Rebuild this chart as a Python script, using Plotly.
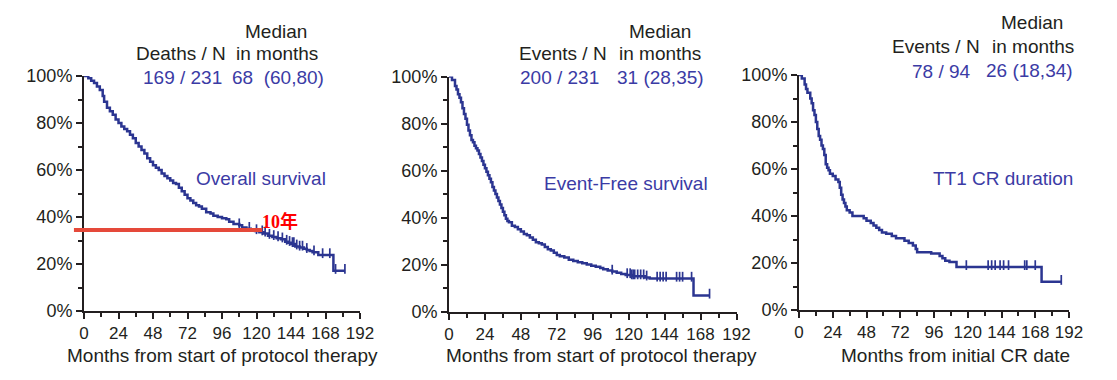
import plotly.graph_objects as go

PAGE_W, PAGE_H = 1117, 380
OFF = 8  # default page margin around the figure
W, H = PAGE_W - 2 * OFF, PAGE_H - 2 * OFF
CURVE = "#2B3591"
TXTBLUE = "#3B3BA5"
BLACK = "#231F20"
FONT = "Liberation Sans, Arial, sans-serif"

x_ticks = [0, 24, 48, 72, 96, 120, 144, 168, 192]
y_ticks = [0, 20, 40, 60, 80, 100]
y_tick_text = ["0%", "20%", "40%", "60%", "80%", "100%"]

# Overall survival (months, % surviving)
os_t = [0, 3, 5, 7, 9, 11, 13, 14, 16, 18, 20, 22, 24, 26, 28, 30, 32, 34, 36, 38, 40, 42, 44, 46,
        48, 50, 52, 54, 56, 58, 60, 62, 64, 66, 68, 70, 72, 74, 76, 78, 80, 82, 85, 88, 90, 93, 96,
        99, 101, 104, 108, 110, 113, 116, 119, 122, 125, 128, 131, 134, 137, 140, 142, 144, 147,
        150, 153, 155, 157, 159, 163, 173.5, 181.5]
os_s = [100, 99, 98, 97, 95.5, 94, 91.5, 89, 86.5, 85, 83.5, 81.5, 80, 78.5, 77.5, 76.5, 75, 73.5,
        71.5, 70, 68.5, 67, 65, 63.5, 62, 61, 60, 58.5, 57.5, 56.5, 55.5, 54.5, 54, 52.5, 51, 49.5,
        48, 47, 46, 45, 44.5, 43.5, 42, 41.5, 40.5, 40, 39.5, 39, 38, 37, 36.5, 35.5, 35, 34.5, 34,
        33.5, 33, 32, 31.5, 31, 30.5, 29.5, 29, 28.5, 27.5, 27, 26.5, 26, 25.5, 25, 23.8, 17.1, 17.1]
os_censor = [108, 115, 120, 124, 126, 129, 132, 135, 138, 141, 143, 145, 146, 148, 150, 152, 155,
             160, 166, 171, 175, 181.5]

# Event-free survival
efs_t = [0, 2, 4, 5, 6, 7, 8, 9, 10, 11, 12, 13, 14, 15, 16, 17, 18, 19, 20, 21, 22, 23, 24, 25, 26,
         27, 28, 29, 30, 31, 32, 33, 34, 35, 36, 37, 38, 39, 40, 42, 44, 46, 48, 50, 52, 54, 56, 58,
         60, 62, 64, 66, 68, 70, 72, 74, 77, 80, 83, 86, 89, 92, 95, 98, 101, 103, 106, 109, 112,
         115, 118, 122, 131, 134, 163.3, 174]
efs_s = [100, 98.5, 96, 94.5, 92.5, 91, 89, 86.5, 84, 82, 79.5, 77, 75, 73, 72, 70.5, 69.5, 68.5,
         67, 65.5, 64, 62.5, 61, 59.5, 58, 56.5, 55, 53, 51.5, 50, 48.5, 47, 45.5, 44, 42.5, 41,
         39.5, 38.5, 38, 36.5, 36, 35, 34, 33, 32.5, 31.5, 30.5, 29.5, 29, 28.5, 27.5, 26.5, 26, 25,
         24, 23.5, 23, 22, 21.5, 21, 20.5, 20, 19.5, 19, 18.5, 18, 17.5, 17, 16.5, 16, 15.5, 15,
         14.5, 14, 6.8, 6.8]
efs_censor = [109, 119, 121, 122, 123, 124, 126, 128, 130, 132, 139, 141, 143, 145, 152, 154, 156,
              162, 174]

# TT1 CR duration
cr_t = [0, 2, 4, 5, 6, 8, 9, 10, 11, 12, 13, 14, 15, 16, 17, 18, 19, 20, 21, 22, 24, 26, 28, 29,
        30, 31, 32, 33, 34, 36, 38, 46, 48, 51, 53, 55, 57, 59, 62, 66, 69, 75, 78, 81, 83, 84, 94,
        100, 102, 104, 107, 112, 172.5, 186.5]
cr_s = [100, 98.5, 96, 94, 92.5, 90, 88, 85, 83, 80, 77, 74, 72.5, 70, 68.5, 66, 62, 60.5, 59.5, 58,
        57, 55.5, 54.5, 52, 49, 47, 45.5, 44, 42.5, 41.5, 40, 39, 38, 37, 36, 35, 34, 33, 32.5, 31.5,
        30.5, 29.5, 28.5, 27.5, 26, 24.6, 24, 23, 22, 21, 20.4, 18.3, 12, 12]
cr_censor = [119, 134.5, 137, 139.5, 143, 145.5, 149, 160.5, 162, 168, 186.5]

panels = [
    dict(t=os_t, s=os_s, c=os_censor, px=(84, 360), py=(76, 311),
         label="Overall survival", label_pos=(261, 178),
         xtitle="Months from start of protocol therapy", xtitle_pos=(222, 355),
         head=[("Median", 276, 32, BLACK), ("Deaths / N", 180.5, 53, BLACK),
               ("in months", 276.5, 53, BLACK), ("169 / 231", 182.5, 77, TXTBLUE),
               ("68\u00a0\u00a0(60,80)", 278, 77, TXTBLUE)]),
    dict(t=efs_t, s=efs_s, c=efs_censor, px=(449, 736.5), py=(76.5, 311.5),
         label="Event-Free survival", label_pos=(625.5, 183),
         xtitle="Months from start of protocol therapy", xtitle_pos=(601, 355),
         head=[("Median", 660, 32, BLACK), ("Events / N", 563, 53, BLACK),
               ("in months", 659.5, 53, BLACK), ("200 / 231", 559, 77, TXTBLUE),
               ("31 (28,35)", 660, 77, TXTBLUE)]),
    dict(t=cr_t, s=cr_s, c=cr_censor, px=(799, 1069), py=(75, 310),
         label="TT1 CR duration", label_pos=(1002.5, 178),
         xtitle="Months from initial CR date", xtitle_pos=(956, 355),
         head=[("Median", 1032, 23, BLACK), ("Events / N", 936, 47, BLACK),
               ("in months", 1032.5, 47, BLACK), ("78 / 94", 941, 71, TXTBLUE),
               ("26 (18,34)", 1029.5, 70, TXTBLUE)]),
]


def fx(sx):
    """page pixel x -> paper fraction"""
    return (sx - OFF) / W


def fy(sy):
    """page pixel y -> paper fraction"""
    return 1 - (sy - OFF) / H


def surv_at(ts, ss, t):
    v = ss[0]
    for ti, si in zip(ts, ss):
        if ti <= t:
            v = si
    return v


fig = go.Figure()
annotations = []
shapes = []

for i, p in enumerate(panels, start=1):
    xa = "x" if i == 1 else f"x{i}"
    ya = "y" if i == 1 else f"y{i}"
    fig.add_trace(go.Scatter(x=p["t"], y=p["s"], mode="lines", line_shape="hv",
                             line=dict(color=CURVE, width=2.5), xaxis=xa, yaxis=ya,
                             showlegend=False, hoverinfo="skip"))
    cy = [surv_at(p["t"], p["s"], t) + 0.8 for t in p["c"]]
    fig.add_trace(go.Scatter(x=p["c"], y=cy, mode="markers",
                             marker=dict(symbol="line-ns", size=7,
                                         line=dict(color=CURVE, width=1.7)),
                             xaxis=xa, yaxis=ya, showlegend=False, hoverinfo="skip",
                             cliponaxis=False))
    xd = [fx(p["px"][0]), fx(p["px"][1])]
    yd = [fy(p["py"][1]), fy(p["py"][0])]
    axkey = "xaxis" if i == 1 else f"xaxis{i}"
    aykey = "yaxis" if i == 1 else f"yaxis{i}"
    fig.update_layout(**{
        axkey: dict(domain=xd, range=[0, 192], anchor=ya, tickvals=x_ticks,
                    ticks="outside", ticklen=6, tickwidth=2, tickcolor=BLACK,
                    showline=True, linecolor=BLACK, linewidth=2, showgrid=False,
                    zeroline=False, automargin=False,
                    tickfont=dict(family=FONT, size=17, color=BLACK),
                    minor=dict(ticks="outside", dtick=12, tick0=0, ticklen=4,
                               tickwidth=2, tickcolor=BLACK)),
        aykey: dict(domain=yd, range=[0, 100], anchor=xa, tickvals=y_ticks,
                    ticktext=y_tick_text, ticks="outside", ticklen=6, tickwidth=2,
                    tickcolor=BLACK, showline=True, linecolor=BLACK, linewidth=2,
                    showgrid=False, zeroline=False, automargin=False,
                    tickfont=dict(family=FONT, size=18, color=BLACK),
                    minor=dict(ticks="outside", dtick=10, tick0=0, ticklen=4,
                               tickwidth=2, tickcolor=BLACK)),
    })
    for txt, x, y, col in p["head"]:
        annotations.append(dict(text=txt, x=fx(x), y=fy(y), xref="paper", yref="paper",
                                xanchor="center", yanchor="middle", showarrow=False,
                                font=dict(family=FONT, size=19, color=col)))
    lx, ly = p["label_pos"]
    annotations.append(dict(text=p["label"], x=fx(lx), y=fy(ly), xref="paper",
                            yref="paper", xanchor="center", yanchor="middle",
                            showarrow=False, font=dict(family=FONT, size=19, color=TXTBLUE)))
    tx, ty = p["xtitle_pos"]
    annotations.append(dict(text=p["xtitle"], x=fx(tx), y=fy(ty), xref="paper",
                            yref="paper", xanchor="center", yanchor="middle",
                            showarrow=False, font=dict(family=FONT, size=19, color=BLACK)))

# 10-year reference line on the overall survival panel
ten_year_level = 34.5
line_end_month = 124
p1 = panels[0]


def px_x(month):
    return fx(p1["px"][0] + month / 192 * (p1["px"][1] - p1["px"][0]))


def px_y(pct):
    return fy(p1["py"][1] - pct / 100 * (p1["py"][1] - p1["py"][0]))


shapes.append(dict(type="line", xref="paper", yref="paper",
                   x0=px_x(-7), x1=px_x(line_end_month),
                   y0=px_y(ten_year_level), y1=px_y(ten_year_level),
                   line=dict(color="#E5493A", width=4)))
annotations.append(dict(text="<b>10年</b>", x=px_x(line_end_month) - 2 / W,
                        y=px_y(ten_year_level) + 8 / H, xref="paper", yref="paper",
                        xanchor="left", yanchor="middle", showarrow=False,
                        font=dict(family="Liberation Serif, Noto Sans CJK SC", size=18,
                                  color="#FF0000")))

fig.update_layout(width=W, height=H,
                  margin=dict(l=0, r=0, t=0, b=0, pad=0, autoexpand=False),
                  paper_bgcolor="white", plot_bgcolor="white",
                  annotations=annotations, shapes=shapes)

fig.write_html("out.html")
